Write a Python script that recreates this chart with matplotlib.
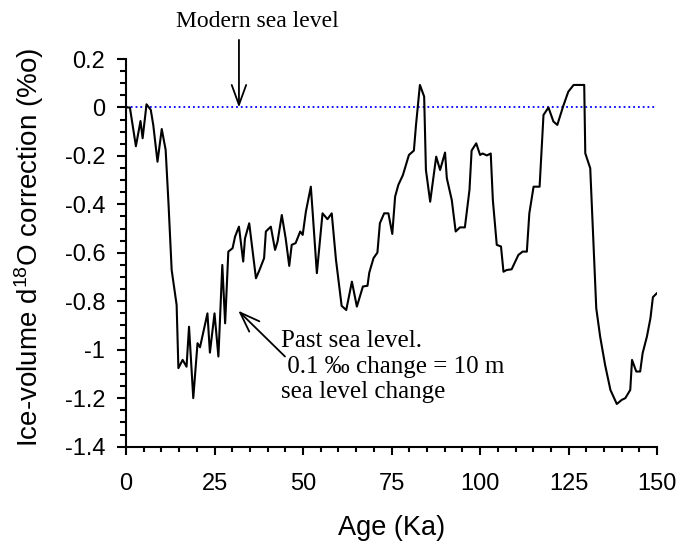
import numpy as np
import matplotlib
matplotlib.use("Agg")
import matplotlib.pyplot as plt

# ice-volume correction curve (age in ka, correction in permil)
age = [0, 1.1, 2.8, 4.1, 4.7, 5.8, 7.0, 7.7, 8.9, 10.1, 11.2, 12.0, 12.9, 14.3,
       14.8, 16.0, 17.1, 17.8, 19.0, 20.2, 20.9, 23.0, 23.7, 25.0, 26.1, 27.2,
       28.0, 28.9, 30.1, 30.8, 31.9, 33.1, 33.6, 34.8, 36.7, 37.7, 39.0, 39.5,
       40.9, 42.1, 42.8, 44.0, 45.1, 46.1, 46.8, 47.9, 49.2, 49.9, 50.8, 52.2,
       52.7, 53.9, 55.5, 56.9, 58.1, 59.3, 60.9, 62.2, 63.8, 65.2, 66.9, 68.2,
       68.7, 69.9, 71.0, 71.7, 72.9, 74.1, 75.2, 76.0, 76.9, 78.2, 79.9, 81.3,
       81.9, 83.0, 84.2, 84.7, 85.9, 87.6, 88.7, 90.1, 90.6, 92.0, 93.1, 94.3,
       95.7, 97.0, 97.6, 98.9, 100.0, 100.7, 101.9, 103.0, 103.6, 104.7, 105.9,
       106.6, 107.5, 108.9, 110.8, 112.0, 113.2, 113.9, 115.1, 116.8, 117.9,
       119.3, 120.7, 121.8, 123.5, 124.9, 126.4, 129.4, 129.7, 131.1, 132.8,
       133.9, 135.3, 136.8, 138.6, 140.0, 141.0, 142.4, 142.9, 144.1, 145.2,
       145.9, 147.1, 148.1, 148.8, 149.9]
corr = [0.0, 0.0, -0.16, -0.056, -0.127, 0.013, -0.01, -0.072, -0.224, -0.089,
        -0.175, -0.395, -0.671, -0.815, -1.076, -1.042, -1.07, -0.905, -1.2,
        -0.973, -0.99, -0.85, -1.012, -0.85, -1.028, -0.65, -0.891, -0.595,
        -0.581, -0.533, -0.492, -0.636, -0.541, -0.478, -0.705, -0.671, -0.622,
        -0.512, -0.492, -0.588, -0.554, -0.444, -0.541, -0.654, -0.567, -0.56,
        -0.512, -0.526, -0.43, -0.327, -0.43, -0.684, -0.437, -0.461, -0.437,
        -0.629, -0.819, -0.836, -0.719, -0.822, -0.739, -0.736, -0.682, -0.622,
        -0.599, -0.478, -0.437, -0.437, -0.522, -0.368, -0.32, -0.279, -0.196,
        -0.178, -0.072, 0.093, 0.045, -0.258, -0.389, -0.203, -0.258, -0.186,
        -0.292, -0.382, -0.512, -0.495, -0.495, -0.34, -0.178, -0.148, -0.196,
        -0.19, -0.198, -0.19, -0.382, -0.567, -0.574, -0.678, -0.671, -0.668,
        -0.609, -0.595, -0.595, -0.437, -0.327, -0.327, -0.031, 0.0, -0.058,
        -0.072, 0.007, 0.065, 0.093, 0.093, -0.189, -0.251, -0.829, -0.946,
        -1.063, -1.166, -1.224, -1.207, -1.2, -1.166, -1.042, -1.09, -1.09,
        -1.014, -0.946, -0.87, -0.783, -0.767]

ytick_vals = [-1.4, -1.2, -1.0, -0.8, -0.6, -0.4, -0.2, 0.0, 0.2]
ytick_labels = ['-1.4', '-1.2', '-1', '-0.8', '-0.6', '-0.4', '-0.2', '0', '0.2']
modern_age = 31.9
past_tip = (31.7, -0.839)
past_tail = (44.9, -1.028)
past_lines = ['Past sea level.', ' 0.1 \u2030 change = 10 m', 'sea level change']

plt.rcParams['font.family'] = ['Liberation Sans', 'DejaVu Sans']
plt.rcParams['mathtext.fontset'] = 'custom'
plt.rcParams['mathtext.rm'] = 'Liberation Sans'
plt.rcParams['mathtext.it'] = 'Liberation Sans'

fig = plt.figure(figsize=(6.81, 5.44), dpi=100)
ax = fig.add_axes([0.185, 0.179, 0.780, 0.7125])

ax.plot([0, 150], [0, 0], color='blue', linestyle=':', linewidth=1.3)
ax.plot(age, corr, color='black', linewidth=1.5)

ax.set_xlim(0, 150)
ax.set_ylim(-1.4, 0.2)
ax.set_xticks(np.arange(0, 151, 25))
ax.set_xticks(np.arange(0, 151, 5), minor=True)
ax.set_yticks(ytick_vals)
ax.set_yticklabels(ytick_labels)
ax.set_yticks(np.arange(-1.4, 0.21, 0.05), minor=True)

for s in ['top', 'right']:
    ax.spines[s].set_visible(False)
for s in ['left', 'bottom']:
    ax.spines[s].set_linewidth(1.5)
ax.tick_params(which='major', direction='out', width=1.5, labelsize=17)
ax.tick_params(axis='y', which='major', length=6.5, pad=8.5)
ax.tick_params(axis='y', which='minor', direction='out', length=4.2, width=1.5)
ax.tick_params(axis='x', which='major', length=6, pad=13)
ax.tick_params(axis='x', which='minor', direction='out', length=3.6, width=1.5)

ax.set_xlabel('Age (Ka)', fontsize=19.5)
ax.xaxis.set_label_coords(0.5, -0.176)
ax.set_ylabel('Ice-volume d$^{18}$O correction (%o)', fontsize=20)
ax.yaxis.set_label_coords(-0.15, 0.513)

serif = ['Liberation Serif', 'DejaVu Serif']
arrow = dict(arrowstyle='->,head_length=0.55,head_width=0.2', color='black',
             lw=1.3, mutation_scale=26, shrinkA=0, shrinkB=0)

ax.text(14.1, 0.332, 'Modern sea level', fontsize=17, family=serif,
        ha='left', va='baseline', clip_on=False)
ax.annotate('', xy=(modern_age, 0), xytext=(modern_age, 0.279),
            annotation_clip=False, arrowprops=arrow)

for i, line in enumerate(past_lines):
    ax.text(43.7, -0.99 - 0.105 * i, line, fontsize=18, family=serif,
            ha='left', va='baseline')
ax.annotate('', xy=past_tip, xytext=past_tail, arrowprops=arrow)

fig.savefig('out.png', dpi=100)
